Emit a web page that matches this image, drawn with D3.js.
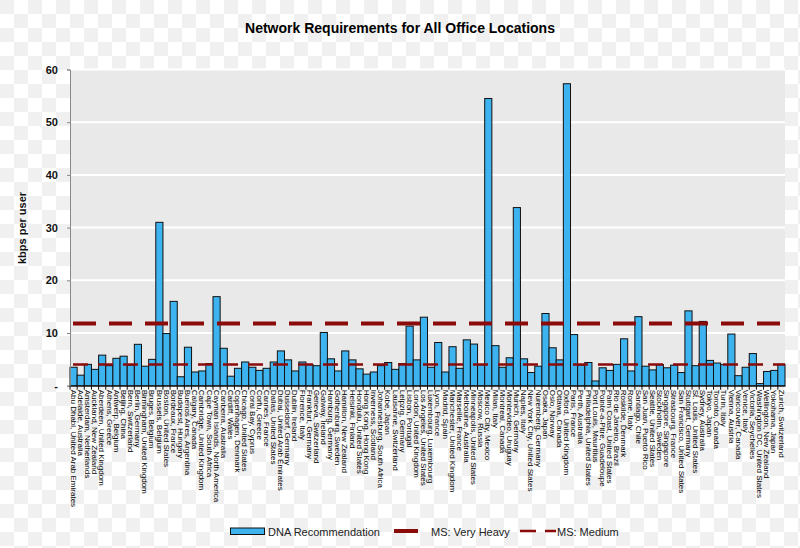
<!DOCTYPE html>
<html lang="en">
<head>
<meta charset="utf-8">
<title>Network Requirements for All Office Locations</title>
<script src="https://cdn.jsdelivr.net/npm/d3@7"></script>
<style>
  body { margin: 0; }
  text { font-family: "Liberation Sans", Arial, sans-serif; }
  .bar { fill: #3db4f0; stroke: #111; stroke-width: 1; }
</style>
</head>
<body>
<script>
// Width and height
var w = 800, h = 548;
var margin = { top: 69.5, right: 15, bottom: 162.3, left: 70 };

// office locations, left to right
var locations = [
  "Abu Dhabi, United Arab Emirates", "Adelaide, Australia", "Amsterdam, Netherlands", "Auckland, New Zealand",
  "Aberdeen, United Kingdom", "Athens, Greece", "Antwerp, Belgium", "Beijing, China", "Bern, Switzerland",
  "Berlin, Germany", "Birmingham, United Kingdom", "Bruges, Belgium", "Brussels, Belgium", "Boston, United States",
  "Bordeaux, France", "Budapest, Hungary", "Buenos Aires, Argentina", "Calgary, Canada", "Cambridge, United Kingdom",
  "Cape Town, South Africa", "Cayman Islands, North America", "Canberra, Australia", "Cardiff, Wales",
  "Copenhagen, Denmark", "Chicago, United States", "Coral Bay, Cyprus", "Corfu, Greece", "Cannes, France",
  "Dallas, United States", "Dubai, United Arab Emirates", "Dusseldorf, Germany", "Dublin, Ireland",
  "Florence, Italy", "Frankfurt, Germany", "Geneva, Switzerland", "Galway, Ireland", "Hamburg, Germany",
  "Gothenburg, Sweden", "Hamilton, New Zealand", "Helsinki, Finland", "Honolulu, United States",
  "Hong Kong, Hong Kong", "Inverness, Scotland", "Johannesburg, South Africa", "Kobe, Japan",
  "Lausanne, Switzerland", "Leipzig, Germany", "Lisbon, Portugal", "London, United Kingdom",
  "Los Angeles, United States", "Luxembourg, Luxembourg", "Lyon, France", "Madrid, Spain",
  "Manchester, United Kingdom", "Marseille, France", "Melbourne, Australia", "Minneapolis, United States",
  "Moscow, Russia", "Mexico City, Mexico", "Milan, Italy", "Montreal, Canada", "Montevideo, Uruguay",
  "Munich, Germany", "Naples, Italy", "New York City, United States", "Nuremberg, Germany", "Osaka, Japan",
  "Oslo, Norway", "Ottawa, Canada", "Oxford, United Kingdom", "Paris, France", "Perth, Australia",
  "Philadelphia, United States", "Port Louis, Mauritius", "Pointe-a-Pitre, Guadeloupe", "Palm Coast, United States",
  "Rio de Janeiro, Brazil", "Roskilde, Denmark", "Rome, Italy", "Santiago, Chile", "San Juan, Puerto Rico",
  "Seattle, United States", "Stockholm, Sweden", "Singapore, Singapore", "Strasbourg, France",
  "San Francisco, United States", "Stuttgart, Germany", "St. Louis, United States", "Sydney, Australia",
  "Tokyo, Japan", "Toronto, Canada", "Turin, Italy", "Vienna, Austria", "Vancouver, Canada", "Venice, Italy",
  "Victoria, Seychelles", "Washington DC, United States", "Wellington, New Zealand", "Yokohama, Japan",
  "Zurich, Switzerland"
];

// DNA recommendation, kbps per user
var dnaValues = [
  3.5, 2.0, 4.05, 3.1, 5.8, 3.8, 5.2, 5.6, 3.9, 7.85,
  3.7, 5.0, 31.0, 9.9, 16.0, 1.7, 7.3, 2.6, 2.8, 4.2,
  16.9, 7.1, 1.8, 3.3, 4.5, 3.5, 2.9, 3.3, 4.5, 6.6,
  4.9, 2.8, 4.5, 4.0, 3.8, 10.1, 5.1, 2.8, 6.6, 4.9,
  3.2, 2.2, 2.6, 3.8, 4.4, 3.1, 4.2, 11.3, 4.9, 13.0,
  3.5, 8.2, 2.6, 7.4, 3.3, 8.7, 7.9, 4.0, 54.5, 7.6,
  3.5, 5.3, 33.8, 5.1, 2.5, 3.7, 13.7, 7.2, 4.9, 57.3,
  9.7, 3.9, 4.4, 0.9, 3.4, 2.9, 4.05, 8.9, 2.8, 13.1,
  3.7, 3.0, 4.0, 3.4, 3.9, 2.5, 14.2, 3.8, 12.2, 4.8,
  4.3, 4.0, 9.8, 1.9, 3.5, 6.1, 0.4, 2.7, 2.9, 4.05
];

// Microsoft reference levels
var msVeryHeavy = 11.8;
var msMedium = 4.0;

var yTicks = [0, 10, 20, 30, 40, 50, 60];

var svg = d3.select("body").append("svg")
  .attr("width", w)
  .attr("height", h);

// checkered page background
var pat = svg.append("defs").append("pattern")
  .attr("id", "checks")
  .attr("width", 28).attr("height", 28)
  .attr("patternUnits", "userSpaceOnUse");
pat.append("rect").attr("width", 28).attr("height", 28).attr("fill", "#ffffff");
pat.append("rect").attr("width", 14).attr("height", 14).attr("fill", "#f0f0f0");
pat.append("rect").attr("x", 14).attr("y", 14).attr("width", 14).attr("height", 14).attr("fill", "#f0f0f0");
svg.append("rect").attr("width", w).attr("height", h).attr("fill", "url(#checks)");

var xScale = d3.scaleBand()
  .domain(locations)
  .range([margin.left, w - margin.right])
  .padding(0);

var yScale = d3.scaleLinear()
  .domain([0, 60])
  .range([h - margin.bottom, margin.top]);

// plot area
svg.append("rect")
  .attr("x", margin.left)
  .attr("y", margin.top)
  .attr("width", w - margin.left - margin.right)
  .attr("height", h - margin.top - margin.bottom)
  .attr("fill", "#e9e9e9");

// white gridlines
svg.selectAll(".grid")
  .data(yTicks.slice(1))
  .enter().append("line")
  .attr("x1", margin.left).attr("x2", w - margin.right)
  .attr("y1", function(d) { return yScale(d); })
  .attr("y2", function(d) { return yScale(d); })
  .attr("stroke", "#ffffff")
  .attr("stroke-width", 2);

// bars
svg.selectAll(".bar")
  .data(dnaValues)
  .enter().append("rect")
  .attr("class", "bar")
  .attr("x", function(d, i) { return xScale(locations[i]); })
  .attr("y", function(d) { return yScale(d); })
  .attr("width", xScale.bandwidth())
  .attr("height", function(d) { return yScale(0) - yScale(d); });

// reference lines
var refLine = d3.line()
  .x(function(d) { return d.x; })
  .y(function(d) { return yScale(d.v); });

svg.append("path")
  .datum([{ x: margin.left + 3, v: msVeryHeavy }, { x: w - margin.right, v: msVeryHeavy }])
  .attr("d", refLine)
  .attr("fill", "none")
  .attr("stroke", "#8b0a0a")
  .attr("stroke-width", 4)
  .attr("stroke-dasharray", "23,13");

svg.append("path")
  .datum([{ x: margin.left + 3, v: msMedium }, { x: w - margin.right, v: msMedium }])
  .attr("d", refLine)
  .attr("fill", "none")
  .attr("stroke", "#8b0a0a")
  .attr("stroke-width", 2.5)
  .attr("stroke-dasharray", "15,10");

// y axis
var yAxis = d3.axisLeft(yScale)
  .tickValues(yTicks)
  .tickSize(3)
  .tickPadding(9)
  .tickFormat(function(d) { return d === 0 ? "-" : d; });

var yG = svg.append("g")
  .attr("transform", "translate(" + margin.left + ",0)")
  .call(yAxis);
yG.select(".domain").attr("stroke", "#888");
yG.selectAll(".tick line").attr("stroke", "#888");
yG.selectAll("text")
  .attr("font-size", 11)
  .attr("font-weight", "bold")
  .attr("fill", "#111");

// x axis
var xAxis = d3.axisBottom(xScale).tickSize(4).tickSizeOuter(0);
var xG = svg.append("g")
  .attr("transform", "translate(0," + yScale(0) + ")")
  .call(xAxis);
xG.select(".domain").attr("stroke", "#111");
xG.selectAll(".tick line")
  .attr("stroke", "#111")
  .attr("transform", "translate(" + (-xScale.bandwidth() / 2) + ",0)");
xG.selectAll(".tick text")
  .attr("font-size", 8)
  .attr("fill", "#000")
  .attr("text-anchor", "start")
  .attr("transform", "translate(0,4) rotate(90)")
  .attr("x", 0)
  .attr("y", 0)
  .attr("dy", "0.35em");

// title
svg.append("text")
  .attr("x", 400)
  .attr("y", 33)
  .attr("text-anchor", "middle")
  .attr("font-size", 14)
  .attr("font-weight", "bold")
  .attr("fill", "#000")
  .text("Network Requirements for All Office Locations");

// y axis title
svg.append("text")
  .attr("transform", "translate(26,228) rotate(-90)")
  .attr("text-anchor", "middle")
  .attr("font-size", 11)
  .attr("font-weight", "bold")
  .attr("fill", "#111")
  .text("kbps per user");

// legend
var lg = svg.append("g").attr("transform", "translate(0,-3)");
lg.append("rect")
  .attr("x", 230.5).attr("y", 531)
  .attr("width", 34).attr("height", 6.5)
  .attr("class", "bar");
lg.append("text").attr("x", 268).attr("y", 538.5).attr("font-size", 11).attr("fill", "#222")
  .text("DNA Recommendation");
lg.append("line")
  .attr("x1", 394).attr("x2", 418).attr("y1", 534).attr("y2", 534)
  .attr("stroke", "#8b0a0a").attr("stroke-width", 4);
lg.append("text").attr("x", 431).attr("y", 538.5).attr("font-size", 11).attr("fill", "#222")
  .text("MS: Very Heavy");
lg.append("line")
  .attr("x1", 520).attr("x2", 556).attr("y1", 534).attr("y2", 534)
  .attr("stroke", "#8b0a0a").attr("stroke-width", 2.5)
  .attr("stroke-dasharray", "16,9");
lg.append("text").attr("x", 557).attr("y", 538.5).attr("font-size", 11).attr("fill", "#222")
  .text("MS: Medium");
</script>
</body>
</html>
